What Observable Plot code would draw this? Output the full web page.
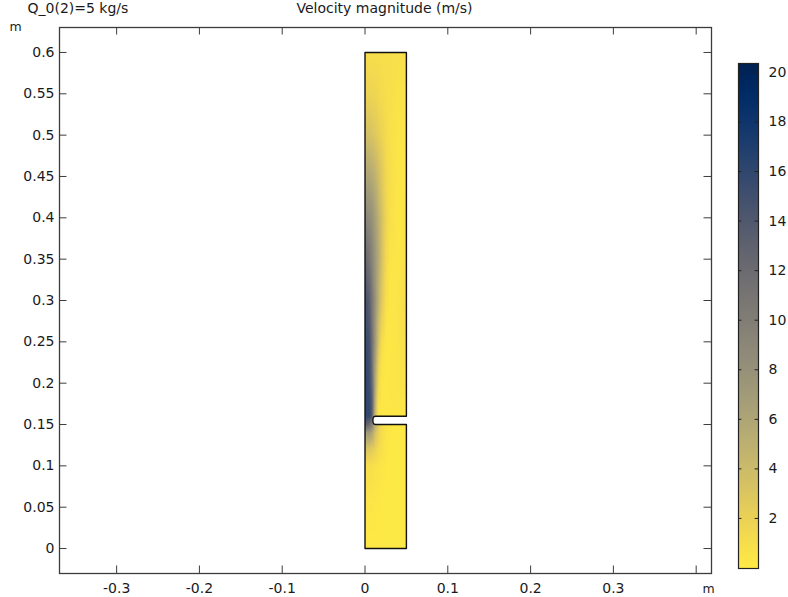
<!DOCTYPE html>
<html><head><meta charset="utf-8">
<script src="https://cdn.jsdelivr.net/npm/d3@7"></script>
<script src="https://cdn.jsdelivr.net/npm/@observablehq/plot@0.6"></script>
<style>
html,body{margin:0;padding:0;background:#fff}
#chart{position:relative;width:788px;height:597px;overflow:hidden}
#chart svg{position:absolute;top:0;font-family:"DejaVu Sans",sans-serif}
</style></head><body><div id="chart"></div>
<script>
const titleLeft = "Q_0(2)=5 kg/s";
const titleCenter = "Velocity magnitude (m/s)";
const xTicks = [-0.3,-0.2,-0.1,0,0.1,0.2,0.3];
const xTickMarks = [-0.3,-0.2,-0.1,0,0.1,0.2,0.3,0.4];
const yTicks = [0,0.05,0.1,0.15,0.2,0.25,0.3,0.35,0.4,0.45,0.5,0.55,0.6];
const barTicks = [2,4,6,8,10,12,14,16,18,20];
const xDomain = [-0.369,0.4185];
const yDomain = [-0.0302,0.6302];
const speedDomain = [0,20.4];

const gridX = [0,0.002,0.005,0.008,0.012,0.016,0.02,0.025,0.03,0.04,0.05];
const gridY = [0.6,0.55,0.5,0.45,0.4,0.35,0.3,0.25,0.2,0.17,0.16,0.15,0.14,0.12,0.1,0.05,0];
const speedRows = [
 [1,1,1,1,1,1,0.9,0.9,0.9,0.8,0.8],
 [1.8,1.8,1.8,1.7,1.6,1.4,1.2,1,0.9,0.6,0.6],
 [3.5,3.5,3.4,3.2,2.8,2.3,1.8,1.2,0.8,0.4,0.5],
 [6,6,6,5.5,4.8,3.8,2.8,1.6,0.9,0.3,0.4],
 [9,9,8.5,8,6.5,5,3.5,1.8,0.8,0.2,0.6],
 [12,12,11,9.5,7.5,5.5,3.5,1.5,0.5,0.3,0.8],
 [14.5,14.5,13.5,11,8,5,2.8,1,0.3,0.5,1],
 [15.5,15.5,15,12,7.5,3.5,1.2,0.3,0.2,0.5,0.8],
 [16,16,15.5,13,6,1.5,0.3,0.2,0.3,0.5,0.6],
 [16,16,16,14,5,0.5,0.2,0.2,0.2,0.3,0.3],
 [16,16,16,14,4,0.5,0.2,0.2,0.2,0.2,0.2],
 [13,13,12,10,5,3,1.5,0.6,0.3,0.1,0.1],
 [7,7,7,6,3.5,2,1,0.5,0.2,0.1,0.1],
 [3,3,2.8,2.5,2,1.2,0.8,0.3,0.1,0.1,0.1],
 [1,1,1,0.9,0.7,0.5,0.3,0.2,0.1,0.1,0.1],
 [0.3,0.3,0.3,0.3,0.2,0.2,0.1,0.1,0.1,0.1,0.1],
 [0.1,0.1,0.1,0.1,0.1,0.1,0.1,0.1,0.1,0.1,0.1]
];
const notchX = [0.052,0.0125,0.0105,0.0097,0.0095,0.0097,0.0105,0.0125,0.052];
const notchY = [0.16,0.16,0.1592,0.1575,0.155,0.1525,0.1508,0.15,0.15];
const outlineX = [0,0.05,0.05,0.0125,0.0105,0.0097,0.0095,0.0097,0.0105,0.0125,0.05,0.05,0,0];
const outlineY = [0.6,0.6,0.16,0.16,0.1592,0.1575,0.155,0.1525,0.1508,0.15,0.15,0,0,0.6];
const field = gridY.flatMap((y,i)=>gridX.map((x,j)=>({x,y,v:speedRows[i][j]})));
const outline = outlineX.map((x,i)=>({x,y:outlineY[i]}));
const notch = notchX.map((x,i)=>({x,y:notchY[i]}));

const ink = "#1a1a1a", frame = "#3c3c3c";
const tickX = 7.5/828, tickY = 7.5/827;
const colorOpt = {type:"linear",scheme:"cividis",reverse:true,domain:speedDomain};
const main = Plot.plot({
  width:788,height:597,marginLeft:59,marginRight:77,marginTop:27,marginBottom:24,
  style:{fontFamily:'"DejaVu Sans",sans-serif',fontSize:"14px",color:ink,background:"transparent"},
  x:{domain:xDomain,label:null},
  y:{domain:yDomain,label:null},
  color:colorOpt,
  marks:[
    Plot.raster(field,{x:"x",y:"y",fill:"v",interpolate:"barycentric",pixelSize:1,x1:0,x2:0.05,y1:0,y2:0.6}),
    Plot.line(notch,{x:"x",y:"y",fill:"white",stroke:"none"}),
    Plot.line(outline,{x:"x",y:"y",stroke:"#111",strokeWidth:1.4}),
    Plot.frame({stroke:frame,strokeWidth:1.3}),
    Plot.ruleX(xTickMarks,{y1:yDomain[0],y2:yDomain[0]+tickY,stroke:frame}),
    Plot.ruleX(xTickMarks,{y1:yDomain[1],y2:yDomain[1]-tickY,stroke:frame}),
    Plot.ruleY(yTicks,{x1:xDomain[0],x2:xDomain[0]+tickX,stroke:frame}),
    Plot.ruleY(yTicks,{x1:xDomain[1],x2:xDomain[1]-tickX,stroke:frame}),
    Plot.axisX(xTicks,{anchor:"bottom",tickSize:0,tickPadding:10,tickFormat:d=>String(d),fontSize:14,label:null}),
    Plot.axisY(yTicks,{anchor:"left",tickSize:0,tickPadding:5,tickFormat:d=>String(d),fontSize:14,label:null}),
    Plot.text([titleLeft],{frameAnchor:"top-left",dx:-32,dy:-24,textAnchor:"start",lineAnchor:"top",fontSize:14,fill:ink}),
    Plot.text([titleCenter],{frameAnchor:"top",dx:-1,dy:-24,lineAnchor:"top",fontSize:14,fill:ink}),
    Plot.text(["m"],{frameAnchor:"top-left",dx:-50,dy:-5,textAnchor:"start",lineAnchor:"top",fontSize:12.5,fill:ink}),
    Plot.text(["m"],{frameAnchor:"bottom-right",dx:-3,dy:19,textAnchor:"middle",lineAnchor:"bottom",fontSize:12.5,fill:ink})
  ]
});
main.style.left="0px";
const bar = Plot.plot({
  width:58,height:597,marginLeft:8,marginRight:30,marginTop:63,marginBottom:29,
  style:{fontFamily:'"DejaVu Sans",sans-serif',fontSize:"14px",color:ink,background:"transparent"},
  x:{domain:[0,1],axis:null},
  y:{domain:[-0.02,20.36],label:null},
  color:colorOpt,
  marks:[
    Plot.raster({fill:(x,y)=>y,x1:0,x2:1,y1:-0.02,y2:20.36,pixelSize:1}),
    Plot.frame({stroke:"#222",strokeWidth:1.2}),
    Plot.ruleY(barTicks,{x1:0,x2:0.17,stroke:"#222"}),
    Plot.ruleY(barTicks,{x1:0.83,x2:1,stroke:"#222"}),
    Plot.axisY(barTicks,{anchor:"right",tickSize:0,tickPadding:10,tickFormat:d=>String(d),fontSize:14,label:null})
  ]
});
bar.style.left="730px";
const c=document.getElementById("chart");
c.append(main,bar);
</script></body></html>
